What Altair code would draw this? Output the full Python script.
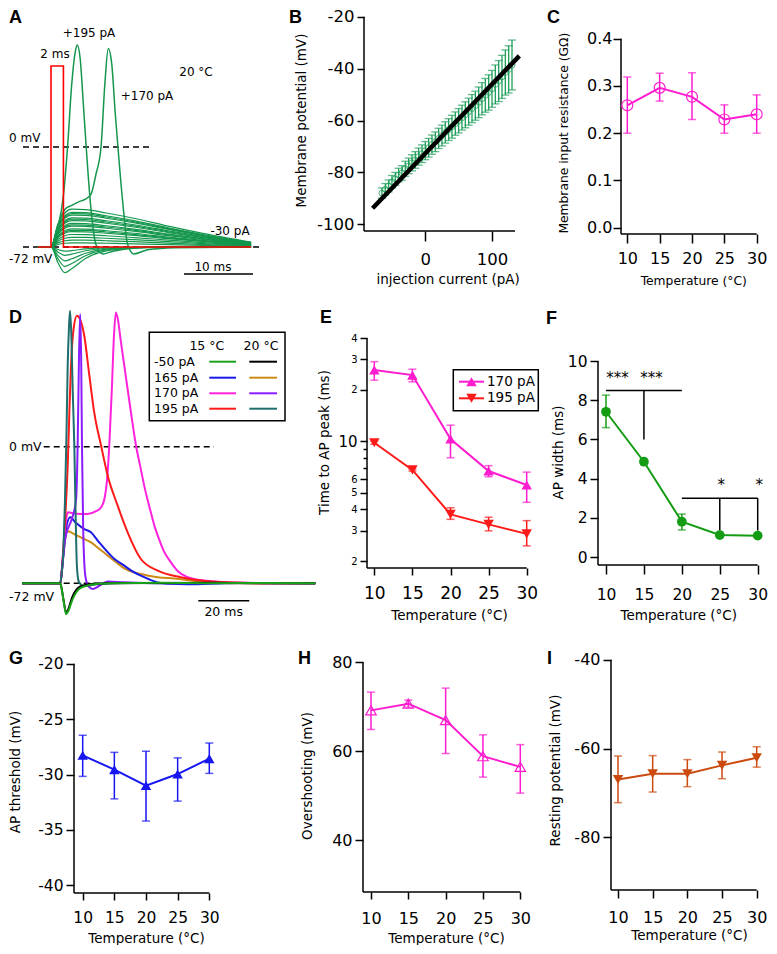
import math
import altair as alt
import pandas as pd

FONT = "DejaVu Sans"
LETTER_FONT = "Liberation Sans"

# ============================ DATA ============================
TEMPS = [10, 15, 20, 25, 30]

# --- A: responses at 20 °C (time ms, membrane potential mV) ---
A_SUB_T = [-1.9, 0, 1, 2, 3, 5, 8, 12, 17, 22, 29]
A_SUB_V = [
    [-72, -72, -55.7, -47.5, -44.8, -45.1, -47.5, -51.3, -57.0, -62.2, -68.5],
    [-72, -72, -57.0, -49.5, -47.0, -47.2, -49.5, -53.0, -58.2, -63.0, -68.7],
    [-72, -72, -57.6, -50.4, -48.0, -48.2, -50.4, -53.8, -58.8, -63.4, -68.9],
    [-72, -72, -58.2, -51.3, -49.0, -49.2, -51.3, -54.5, -59.3, -63.7, -69.0],
    [-72, -72, -59.4, -53.1, -51.0, -51.2, -53.1, -56.0, -60.4, -64.4, -69.3],
    [-72, -72, -60.0, -54.0, -52.0, -52.2, -54.0, -56.8, -61.0, -64.8, -69.4],
    [-72, -72, -60.6, -54.9, -53.0, -53.2, -54.9, -57.6, -61.6, -65.2, -69.5],
    [-72, -72, -61.8, -56.7, -55.0, -55.2, -56.7, -59.1, -62.7, -65.9, -69.8],
    [-72, -72, -62.4, -57.6, -56.0, -56.2, -57.6, -59.8, -63.2, -66.2, -69.9],
    [-72, -72, -63.0, -58.5, -57.0, -57.2, -58.5, -60.6, -63.8, -66.6, -70.0],
    [-72, -72, -64.2, -60.3, -59.0, -59.1, -60.3, -62.1, -64.9, -67.3, -70.3],
    [-72, -72, -64.8, -61.2, -60.0, -60.1, -61.2, -62.9, -65.4, -67.7, -70.4],
    [-72, -72, -65.4, -62.1, -61.0, -61.1, -62.1, -63.6, -66.0, -68.0, -70.6],
    [-72, -72, -66.6, -63.9, -63.0, -63.1, -63.9, -65.2, -67.0, -68.8, -70.8],
    [-72, -72, -67.8, -65.7, -65.0, -65.1, -65.7, -66.7, -68.1, -69.5, -71.1],
    [-72, -72, -69.0, -67.5, -67.0, -67.0, -67.5, -68.2, -69.2, -70.2, -71.3],
    [-72, -72, -70.2, -69.3, -69.0, -69.0, -69.3, -69.7, -70.3, -70.9, -71.6],
    [-72, -72, -73.8, -75.0, -74.6, -73.4, -72.5, -72.2, -72.0, -72.0, -72.0],
    [-72, -72, -75.6, -78.0, -77.1, -74.7, -72.9, -72.3, -72.0, -72.0, -72.0],
    [-72, -72, -78.0, -82.0, -80.5, -76.5, -73.5, -72.5, -72.0, -72.0, -72.0],
    [-72, -72, -80.4, -86.0, -83.9, -78.3, -74.1, -72.7, -72.0, -72.0, -72.0],
    [-72, -72, -83.1, -90.5, -87.7, -80.3, -74.8, -72.9, -72.0, -72.0, -72.0],
]
A_195_T = [-1.9, 0, 1, 1.8, 2.4, 3.0, 3.5, 3.8, 4.2, 4.7, 5.1, 5.8, 6.5, 7.5, 9, 13, 20, 29]
A_195_V = [-72, -72, -58, -35, 0, 45, 68, 73.4, 65, 30, 0, -45, -70, -77, -75, -72.5, -72, -72]
A_170_T = [-1.9, 0, 1, 2, 3, 4, 5, 5.8, 6.5, 7.25, 7.8, 8.3, 8.8, 9.3, 9.7, 10.4, 11.1, 12, 14, 18, 29]
A_170_V = [-72, -72, -56, -45, -42, -39.5, -37.5, -34, -20, 0, 45, 71, 60, 25, 0, -40, -70, -77, -74, -72.5, -72]
A_STIM_T = [-1.9, 0, 0, 1.8, 1.8, 29]
A_STIM_V = [-72, -72, 58.3, 58.3, -72, -72]

# --- B: I-V relation ---
B_I = [-65, -60, -55, -50, -45, -40, -35, -30, -25, -20, -15, -10, -5, 0, 5, 10, 15, 20, 25, 30,
       35, 40, 45, 50, 55, 60, 65, 70, 75, 80, 85, 90, 95, 100, 105, 110, 115, 120, 125, 130]
B_V = [-88.0, -86.5, -85.2, -83.6, -82.5, -81.0, -80.2, -78.6, -77.5, -76.3, -75.2, -73.9, -72.8, -71.6,
       -70.5, -69.3, -68.2, -66.9, -65.8, -64.6, -63.5, -62.4, -61.2, -60.1, -58.9, -57.8, -56.6, -55.4,
       -54.3, -53.0, -51.6, -50.3, -49.2, -47.8, -46.1, -44.8, -43.2, -41.5, -40.3, -38.6]
B_ERR = [2.0, 2.2, 2.3, 2.4, 2.5, 2.6, 2.8, 2.9, 3.0, 3.1, 3.2, 3.3, 3.4, 3.5, 3.6, 3.7, 3.8, 3.9, 4.0, 4.1,
         4.2, 4.4, 4.5, 4.7, 4.8, 5.0, 5.2, 5.4, 5.6, 5.9, 6.2, 6.5, 6.8, 7.1, 7.5, 7.9, 8.3, 8.7, 9.1, 9.6]
B_FIT_I = [-79, 141]
B_FIT_V = [-93.8, -35.1]

# --- C: input resistance (GOhm) ---
C_R = [0.259, 0.296, 0.277, 0.229, 0.240]
C_LO = [0.200, 0.268, 0.229, 0.200, 0.200]
C_HI = [0.319, 0.327, 0.328, 0.260, 0.281]

# --- D: 15 °C vs 20 °C traces (ms, mV) ---
D_GREEN_T = [-15, 0, 0.8, 1.6, 2.3, 3.2, 4.5, 5.5, 7, 9.4, 13.3, 20, 40, 60, 80, 100]
D_GREEN_V = [-72, -72, -77, -84, -88.3, -86.5, -81.5, -78.5, -75.5, -73.6, -72.5, -72, -71.7, -72, -71.8, -72]
D_BLACK_T = [-15, 0, 0.8, 1.6, 2.3, 3.2, 4.5, 5.5, 7, 9.4, 13.3, 20, 40, 60, 80, 100]
D_BLACK_V = [-72, -72, -77, -83.5, -87.5, -85.5, -80, -77, -74.3, -73, -72.3, -72, -71.8, -71.7, -72, -72]
D_BLUE_T = [-15, 0, 1, 2, 3.9, 6, 9.4, 12, 15, 18.6, 21.5, 25.1, 28, 31.6, 35, 38.2, 42, 50, 65, 80, 100]
D_BLUE_V = [-72, -72, -60, -45, -37.2, -40, -43.4, -45.1, -50, -55.6, -59.5, -62.7, -65.5, -68, -70, -71.5,
            -72.3, -72.5, -72, -71.8, -72]
D_ORANGE_T = [-15, 0, 1, 2, 2.9, 6, 9, 12, 15, 18.6, 22, 25.1, 31.6, 38.2, 44.7, 55, 70, 100]
D_ORANGE_V = [-72, -72, -60, -48, -44.6, -46.5, -48.5, -50.4, -53.5, -57.4, -61, -64.1, -67.1, -68.8, -69.5,
              -71, -72, -72]
D_MAGENTA_T = [-15, 0, 1, 2, 2.9, 6, 10.7, 14, 16, 17.3, 18.3, 19.2, 20.2, 21.1, 21.8, 22.6, 23.7, 25.1,
               27.5, 29.7, 31.3, 32.9, 35, 36.9, 38.8, 40.8, 43.4, 46, 50, 55, 62, 70, 85, 100]
D_MAGENTA_V = [-72, -72, -58, -42, -34.6, -35.3, -35.5, -34, -31.9, -27.6, -18, 0.5, 30, 60, 70.8, 67, 56,
               42.7, 20, 0.5, -10, -20.5, -32, -41.6, -49, -55.6, -61, -65.5, -68.8, -70.3, -71.2, -71.6,
               -72, -72]
D_PURPLE_T = [-15, 0, 1, 2, 2.9, 4, 5, 6.2, 6.8, 7.3, 7.8, 8.2, 8.5, 9.0, 9.8, 11, 12.7, 15.3, 18.6, 25,
              40, 60, 100]
D_PURPLE_V = [-72, -72, -60, -48, -43.4, -40, -36, -27.6, 0.5, 45, 69.9, 45, 0.5, -45, -68, -73.5, -75,
              -73.3, -71, -71.5, -72, -71.8, -72]
D_RED_T = [-15, 0, 0.6, 1.6, 2.9, 3.6, 4.2, 5.2, 6.5, 7.8, 9.4, 11.4, 13.3, 16, 18.6, 22.5, 26.4, 31.6,
           38.2, 47.3, 55, 65, 80, 100]
D_RED_V = [-72, -72, -65, -45, -10, 20, 42.7, 62, 69, 67, 58.5, 37.4, 18.1, 0.5, -15.3, -31.1, -45.1,
           -59.2, -65.3, -68.8, -70.5, -71.5, -72, -72]
D_TEAL_T = [-15, 0, 0.6, 1.2, 1.8, 2.4, 2.9, 3.4, 3.8, 4.3, 4.9, 5.5, 6.0, 6.5, 7.2, 8, 9.4, 12, 16, 25,
            40, 60, 100]
D_TEAL_V = [-72, -72, -66, -55, -30, 5, 42.7, 63, 71.7, 60, 28, 0.5, -35, -62.7, -71, -72.5, -73.5, -73,
            -72.3, -71.8, -72, -71.8, -72]
D_LEGEND_ROWS = ["-50 pA", "165 pA", "170 pA", "195 pA"]

# --- E: time to AP peak (ms) ---
E_170 = [26.0, 24.3, 10.3, 6.7, 5.55]
E_170_LO = [22.7, 22.2, 8.0, 6.2, 4.4]
E_170_HI = [29.1, 26.3, 12.4, 7.2, 6.6]
E_195 = [9.8, 6.8, 3.74, 3.27, 2.88]
E_195_LO = [9.6, 6.7, 3.5, 3.0, 2.45]
E_195_HI = [10.0, 6.9, 4.09, 3.6, 3.44]

# --- F: AP width (ms) ---
F_W = [7.41, 4.86, 1.80, 1.12, 1.09]
F_LO = [6.60, 4.76, 1.38, 1.05, 1.02]
F_HI = [8.26, 4.96, 2.19, 1.19, 1.16]
F_BRACKETS = [(10, 8.5, 20, 8.5), (15, 8.5, 15, 6.0), (20, 3.0, 30, 3.0), (25, 3.0, 25, 1.35), (30, 3.0, 30, 1.35)]
F_STARS = [("***", 11.5, 8.88), ("***", 16.0, 8.88), ("*", 25.2, 3.43), ("*", 30.2, 3.43)]

# --- G: AP threshold (mV) ---
G_TH = [-28.27, -29.56, -31.0, -29.96, -28.57]
G_LO = [-30.17, -32.2, -34.2, -32.4, -29.9]
G_HI = [-26.46, -28.0, -27.9, -28.5, -27.16]

# --- H: overshoot (mV) ---
H_OV = [69.2, 70.7, 67.0, 58.9, 56.5]
H_LO = [64.9, 69.9, 59.5, 54.2, 50.6]
H_HI = [73.3, 71.5, 74.2, 63.7, 61.5]

# --- I: resting potential (mV) ---
I_RP = [-66.98, -65.7, -65.7, -63.8, -62.1]
I_LO = [-72.2, -69.8, -68.6, -66.8, -64.2]
I_HI = [-61.7, -61.6, -62.5, -60.8, -59.6]

# ============================ STYLE ============================
A_GREEN = "#14964c"
B_GREEN = "#1f9e5a"
MAGENTA = "#ff1ccf"
RED = "#ff1a1a"
F_GREEN = "#149c14"
G_BLUE = "#1616f0"
I_ORANGE = "#cc4a0e"
D_COL = dict(green="#1aa31a", black="#000000", blue="#1a1ae6", orange="#cc8a16",
             magenta="#ff22dd", purple="#8a1cff", red="#ff1a1a", teal="#1f6e6e")

SC = -7   # horizontal shift of right column (C, I)
SF = -9   # horizontal shift of panel F
VSP = 5   # vertical spacing between rows


def R3(y):  # vertical shift of bottom row
    return y - 6


def lin(p1, v1, p2, v2):
    k = (v2 - v1) / (p2 - p1)
    return lambda p: v1 + (p - p1) * k


def logmap(p1, v1, p2, v2):
    a1, a2 = math.log10(v1), math.log10(v2)
    k = (a2 - a1) / (p2 - p1)
    return lambda p: 10 ** (a1 + (p - p1) * k)


class Panel:
    def __init__(self, left, top, right, bottom, fx, fy, xaxis=None, yaxis=None, ylog=False):
        self.w = round(right - left)
        self.h = round(bottom - top)
        self.fx, self.fy = fx, fy
        self.xdom = [fx(left), fx(left + self.w)]
        self.ydom = [fy(top + self.h), fy(top)]
        self.xs = alt.Scale(domain=self.xdom, nice=False, zero=False)
        if ylog:
            self.ys = alt.Scale(type="log", domain=self.ydom, nice=False)
        else:
            self.ys = alt.Scale(domain=self.ydom, nice=False, zero=False)
        self.xaxis, self.yaxis = xaxis, yaxis
        self.layers = []

    def X(self, f="x"):
        return alt.X(f, type="quantitative", scale=self.xs, axis=self.xaxis)

    def Y(self, f="y"):
        return alt.Y(f, type="quantitative", scale=self.ys, axis=self.yaxis)

    def add(self, *ls):
        self.layers.extend(ls)

    def chart(self):
        return alt.layer(*self.layers).properties(width=self.w, height=self.h)


def xax(title, fs, tfs, tick, pad, tpad, title_x, values=TEMPS, **kw):
    return alt.Axis(values=values, title=title, labelFontSize=fs, titleFontSize=tfs, tickSize=tick,
                    labelPadding=pad, titlePadding=tpad, titleX=title_x, titleAlign="center", **kw)


def yax(title, values, fs, tfs, tick, pad, tpad, title_y=None, **kw):
    extra = {} if title_y is None else {"titleY": title_y}
    return alt.Axis(values=values, title=title, labelFontSize=fs, titleFontSize=tfs, tickSize=tick,
                    labelPadding=pad, titlePadding=tpad, **extra, **kw)


def line(p, ts, vs, color, width, interp="monotone", dash=None):
    kw = dict(color=color, strokeWidth=width, interpolate=interp)
    if dash:
        kw["strokeDash"] = dash
    df = pd.DataFrame({"x": ts, "y": vs, "i": list(range(len(ts)))})
    return alt.Chart(df).mark_line(**kw).encode(x=p.X(), y=p.Y(), order="i:Q")


def segs(p, rows, color="black", width=1.5, dash=None):
    kw = dict(color=color, strokeWidth=width)
    if dash:
        kw["strokeDash"] = dash
    df = pd.DataFrame(rows, columns=["x", "y", "x2", "y2"])
    return alt.Chart(df).mark_rule(**kw).encode(x=p.X("x"), y=p.Y("y"), x2="x2", y2="y2")


def texts_px(p, items, size, align="center", baseline="middle", font=FONT, weight="normal"):
    df = pd.DataFrame({"x": [p.fx(a) for _, a, _ in items], "y": [p.fy(b) for _, _, b in items],
                       "t": [s for s, _, _ in items]})
    return alt.Chart(df).mark_text(align=align, baseline=baseline, font=font, fontSize=size,
                                   fontWeight=weight, color="black").encode(x=p.X("x"), y=p.Y("y"), text="t:N")


def letter(p, s, px, py):
    return texts_px(p, [(s, px, py)], 18, "left", "top", LETTER_FONT, "bold")


def axis_lines(p, ytop, xend):
    x0, y0 = p.xdom[0], p.ydom[0]
    return segs(p, [(x0, ytop, x0, y0), (x0, y0, xend, y0)], "black", 1.5)


def series(p, xs, ys, lo, hi, color, shape, filled, size, lw=2, cap=8, errw=1.5):
    df = pd.DataFrame({"x": xs, "y": ys, "lo": lo, "hi": hi})
    base = alt.Chart(df)
    ln = base.mark_line(color=color, strokeWidth=lw).encode(x=p.X(), y=p.Y())
    eb = base.mark_rule(color=color, strokeWidth=errw).encode(x=p.X(), y=p.Y("lo"), y2="hi")
    caps = base.transform_fold(["lo", "hi"], as_=["k", "v"]).mark_tick(
        color=color, thickness=errw, size=cap, orient="horizontal").encode(x=p.X(), y=p.Y("v"))
    pt = base.mark_point(shape=shape, filled=filled, size=size, color=color, opacity=1,
                         strokeWidth=1.2).encode(x=p.X(), y=p.Y())
    return [ln, eb, caps, pt]


NEG = "'' + datum.value"

# ============================ PANEL A ============================
A = Panel(8, 8, 363, 300, lin(50, 0, 119, 10), lin(146, 0, 246, -72))
sub_rows = []
for k, vs in enumerate(A_SUB_V):
    for t, v in zip(A_SUB_T, vs):
        sub_rows.append({"trace": k, "x": t, "y": v})
A.add(
    segs(A, [(A.fx(22), 0, A.fx(152), 0), (A.fx(22), -72, A.fx(260), -72)], "black", 1.5, [6, 4]),
    alt.Chart(pd.DataFrame(sub_rows)).mark_line(color=A_GREEN, strokeWidth=1.2, interpolate="monotone")
    .encode(x=A.X(), y=A.Y(), detail="trace:N"),
    line(A, A_170_T, A_170_V, A_GREEN, 1.5),
    line(A, A_195_T, A_195_V, A_GREEN, 1.5),
    line(A, A_STIM_T, A_STIM_V, "#ff0000", 1.6, "linear"),
    segs(A, [(A.fx(183), A.fy(273), A.fx(252), A.fy(273))], "black", 1.5),
    texts_px(A, [("2 ms", 54, 53), ("+195 pA", 88, 32), ("+170 pA", 146, 95), ("20 °C", 195, 71),
                 ("-30 pA", 229, 230), ("10 ms", 212, 266)], 12),
    texts_px(A, [("0 mV", 8, 137), ("-72 mV", 8, 258)], 12, "left"),
    letter(A, "A", 8, 8),
)

# ============================ PANEL B ============================
B = Panel(363, 8, 627 + SC, 230, lin(424.3, 0, 491, 100), lin(15.7, -20, 223.3, -100),
          xaxis=xax("injection current (pA)", 16.5, 13.5, 10, 10, 5, 446.7 - 363, values=[0, 100]),
          yaxis=yax("Membrane potential (mV)", [-100, -80, -60, -40, -20], 16.5, 13.5, 7, 3, 8,
                    labelExpr=NEG))
bdf = pd.DataFrame({"x": B_I, "y": B_V, "lo": [v - e for v, e in zip(B_V, B_ERR)],
                    "hi": [v + e for v, e in zip(B_V, B_ERR)]})
B.add(
    axis_lines(B, -20, B.fx(514)),
    alt.Chart(bdf).mark_rule(color=B_GREEN, strokeWidth=1.3).encode(x=B.X(), y=B.Y("lo"), y2="hi"),
    alt.Chart(bdf).transform_fold(["lo", "hi"], as_=["k", "v"]).mark_tick(
        color=B_GREEN, thickness=1.3, size=8, orient="horizontal").encode(x=B.X(), y=B.Y("v")),
    alt.Chart(bdf).mark_point(shape="circle", filled=False, size=35, strokeWidth=0.8, color=B_GREEN,
                              opacity=1).encode(x=B.X(), y=B.Y()),
    line(B, B_FIT_I, B_FIT_V, "black", 4.5, "linear"),
    letter(B, "B", 288, 8),
)

# ============================ PANEL C ============================
C_LEFT = 627 + SC
C = Panel(C_LEFT, 8, 764 + SC, 233, lin(633.3 + SC, 10, 762.7 + SC, 30), lin(37.7, 0.4, 226.7, 0.0),
          xaxis=xax("Temperature (°C)", 16, 12.3, 9, 7, 8, 699.2 + SC - C_LEFT),
          yaxis=yax("Membrane input resistance (GΩ)", [0, 0.1, 0.2, 0.3, 0.4], 16, 12.3, 8, 1, 16,
                    title_y=131.7 - 8, format=".1f"))
C.add(axis_lines(C, 0.4, 30), *series(C, TEMPS, C_R, C_LO, C_HI, MAGENTA, "circle", False, 120),
      letter(C, "C", 553 + SC, 8))

# ============================ PANEL D ============================
D = Panel(8, 310, 366, R3(657) - VSP, lin(59.3, 0, 110.3, 20), lin(447.7, 0, 584.3, -72))
D.add(
    segs(D, [(D.fx(42.7), 0, D.fx(213), 0), (D.fx(42.7), -72, D.fx(200), -72)], "black", 1.5, [6, 4]),
    line(D, D_ORANGE_T, D_ORANGE_V, D_COL["orange"], 2),
    line(D, D_BLUE_T, D_BLUE_V, D_COL["blue"], 2),
    line(D, D_MAGENTA_T, D_MAGENTA_V, D_COL["magenta"], 2),
    line(D, D_RED_T, D_RED_V, D_COL["red"], 2),
    line(D, D_PURPLE_T, D_PURPLE_V, D_COL["purple"], 2),
    line(D, D_TEAL_T, D_TEAL_V, D_COL["teal"], 2),
    line(D, D_BLACK_T, D_BLACK_V, D_COL["black"], 2),
    line(D, D_GREEN_T, D_GREEN_V, D_COL["green"], 2),
    segs(D, [(D.fx(197.3), D.fy(601.7), D.fx(248.3), D.fy(601.7))], "black", 1.5),
    texts_px(D, [("20 ms", 222.7, 613)], 12.5),
    texts_px(D, [("0 mV", 8, 447.7), ("-72 mV", 8, 598)], 12.5, "left"),
)
box = pd.DataFrame({"x": [D.fx(148.3)], "x2": [D.fx(284)], "y": [D.fy(333.3)], "y2": [D.fy(421.7)]})
D.add(alt.Chart(box).mark_rect(fillOpacity=0, stroke="black", strokeWidth=1.5)
      .encode(x=D.X("x"), x2="x2", y=D.Y("y"), y2="y2"))
D.add(texts_px(D, [("15 °C", 205.8, 346.7), ("20 °C", 260, 346.7)], 12.5))
row_y = [362.7, 378.7, 394.3, 409.7]
D.add(texts_px(D, [(s, 153, yy) for s, yy in zip(D_LEGEND_ROWS, row_y)], 12.5, "left"))
pairs = [("green", "black"), ("blue", "orange"), ("magenta", "purple"), ("red", "teal")]
lrows = []
for (c1, c2), yy in zip(pairs, row_y):
    lrows.append({"x": D.fx(208.3), "x2": D.fx(235), "y": D.fy(yy), "y2": D.fy(yy), "c": D_COL[c1]})
    lrows.append({"x": D.fx(248.3), "x2": D.fx(276), "y": D.fy(yy), "y2": D.fy(yy), "c": D_COL[c2]})
D.add(alt.Chart(pd.DataFrame(lrows)).mark_rule(strokeWidth=2)
      .encode(x=D.X("x"), x2="x2", y=D.Y("y"), y2="y2", color=alt.Color("c:N", scale=None)))
D.add(letter(D, "D", 8, 310))

# ============================ PANEL E ============================
E = Panel(366, 310, 606 + SF, 569, lin(373.3, 10, 525.7, 30), logmap(339, 40, 562, 2),
          xaxis=xax("Temperature (°C)", 17, 13.5, 7, 10, 7, 448 - 366),
          yaxis=yax("Time to  AP peak (ms)", [2, 3, 4, 5, 6, 7, 8, 9, 10, 20, 30, 40], 10, 13.5, 7, 3, 6,
                    title_y=443 - 310,
                    labelExpr="datum.value >= 20 ? format(datum.value / 10, 'd') : "
                              "((datum.value >= 7 && datum.value <= 9) ? '' : format(datum.value, 'd'))"),
          ylog=True)
E.yaxis["labelFontSize"] = {"condition": {"test": "datum.value == 10", "value": 15}, "value": 10}
E.yaxis["tickSize"] = {"condition": {"test": "datum.value >= 7 && datum.value <= 9", "value": 4}, "value": 7}
E.add(axis_lines(E, 40, 30),
      *series(E, TEMPS, E_170, E_170_LO, E_170_HI, MAGENTA, "triangle-up", True, 110),
      *series(E, TEMPS, E_195, E_195_LO, E_195_HI, RED, "triangle-down", True, 110))
ebox = pd.DataFrame({"x": [E.fx(452.3)], "x2": [E.fx(537.3)], "y": [E.fy(370.7)], "y2": [E.fy(411.7)]})
E.add(alt.Chart(ebox).mark_rect(fillOpacity=0, stroke="black", strokeWidth=1.5)
      .encode(x=E.X("x"), x2="x2", y=E.Y("y"), y2="y2"))
for lab, yy, col, shp in [("170 pA", 382.7, MAGENTA, "triangle-up"), ("195 pA", 399.3, RED, "triangle-down")]:
    E.add(segs(E, [(E.fx(458), E.fy(yy), E.fx(483), E.fy(yy))], col, 2))
    E.add(alt.Chart(pd.DataFrame({"x": [E.fx(470.5)], "y": [E.fy(yy)]}))
          .mark_point(shape=shp, filled=True, size=110, color=col, opacity=1).encode(x=E.X(), y=E.Y()))
    E.add(texts_px(E, [(lab, 486, yy)], 13.5, "left"))
E.add(letter(E, "E", 319, 310))

# ============================ PANEL F ============================
F_LEFT = 608 + SF
F = Panel(F_LEFT, 310, 770 + SF, 566, lin(616 + SF, 10, 767.7 + SF, 30), lin(362, 10, 558, 0),
          xaxis=xax("Temperature (°C)", 15.5, 13.5, 9, 13, 6, 688.3 + SF - F_LEFT),
          yaxis=yax("AP width (ms)", [0, 2, 4, 6, 8, 10], 15.5, 13.5, 8, 3, 2, title_y=453 - 310))
sdf = pd.DataFrame({"x": [s[1] for s in F_STARS], "y": [s[2] for s in F_STARS], "t": [s[0] for s in F_STARS]})
F.add(axis_lines(F, 10, 30),
      segs(F, F_BRACKETS, "black", 1.5),
      alt.Chart(sdf).mark_text(font=FONT, fontSize=15, baseline="alphabetic", color="black")
      .encode(x=F.X(), y=F.Y(), text="t:N"),
      *series(F, TEMPS, F_W, F_LO, F_HI, F_GREEN, "circle", True, 95),
      letter(F, "F", 556 + SF, 311))

# ============================ PANEL G ============================
G = Panel(73, R3(657), 362, R3(900), lin(81.7, 10, 208.3, 30), lin(R3(670.7), -20, R3(892.3), -40),
          xaxis=xax("Temperature (°C)", 15.5, 13.5, 7, 10, 6, 145 - 73),
          yaxis=yax("AP threshold (mV)", [-40, -35, -30, -25, -20], 15.5, 13.5, 8, 3, 15, labelExpr=NEG))
G.add(axis_lines(G, -20, 30), *series(G, TEMPS, G_TH, G_LO, G_HI, G_BLUE, "triangle-up", True, 110),
      letter(G, "G", 8, R3(657)))

# ============================ PANEL H ============================
H = Panel(362, R3(657), 617 + SC, R3(899), lin(370, 10, 519.3, 30), lin(R3(669.3), 80, R3(847.3), 40),
          xaxis=xax("Temperature (°C)", 16, 13.5, 7, 11, 5, 445 - 362),
          yaxis=yax("Overshooting (mV)", [40, 60, 80], 16, 13.5, 8, 3, 17, title_y=782.5 - 657))
H.add(axis_lines(H, 80, 30), *series(H, TEMPS, H_OV, H_LO, H_HI, MAGENTA, "triangle-up", False, 110),
      letter(H, "H", 297, R3(657)))

# ============================ PANEL I ============================
I_LEFT = 617 + SC
I = Panel(I_LEFT, R3(657), 764 + SC, R3(897), lin(624 + SC, 10, 762.7 + SC, 30),
          lin(R3(666.7), -40, R3(844.3), -80),
          xaxis=xax("Temperature (°C)", 16, 13.5, 8, 11, 3, 695 + SC - I_LEFT),
          yaxis=yax("Resting potential (mV)", [-80, -60, -40], 16, 13.5, 8, 3, 11, labelExpr=NEG))
I.add(axis_lines(I, -40, 30), *series(I, TEMPS, I_RP, I_LO, I_HI, I_ORANGE, "triangle-down", True, 110),
      letter(I, "I", 553 + SC, R3(657)))

# ============================ LAYOUT ============================
spacer = alt.Chart(pd.DataFrame({"v": [0]})).mark_point(opacity=0).properties(width=65, height=G.h)
row1 = alt.hconcat(A.chart(), B.chart(), C.chart(), spacing=0, bounds="flush")
row2 = alt.hconcat(D.chart(), E.chart(), F.chart(), spacing=0, bounds="flush")
row3 = alt.hconcat(spacer, G.chart(), H.chart(), I.chart(), spacing=0, bounds="flush")

chart = (
    alt.vconcat(row1, row2, row3, spacing=VSP, padding=0)
    .configure_view(stroke=None)
    .configure_axis(domain=False, grid=False, tickColor="black", tickWidth=1.5, labelColor="black",
                    titleColor="black", labelFont=FONT, titleFont=FONT, titleFontWeight="normal",
                    labelOverlap=False, labelFlush=False)
)
chart.save("out.html", embed_options={"renderer": "svg", "actions": False})
